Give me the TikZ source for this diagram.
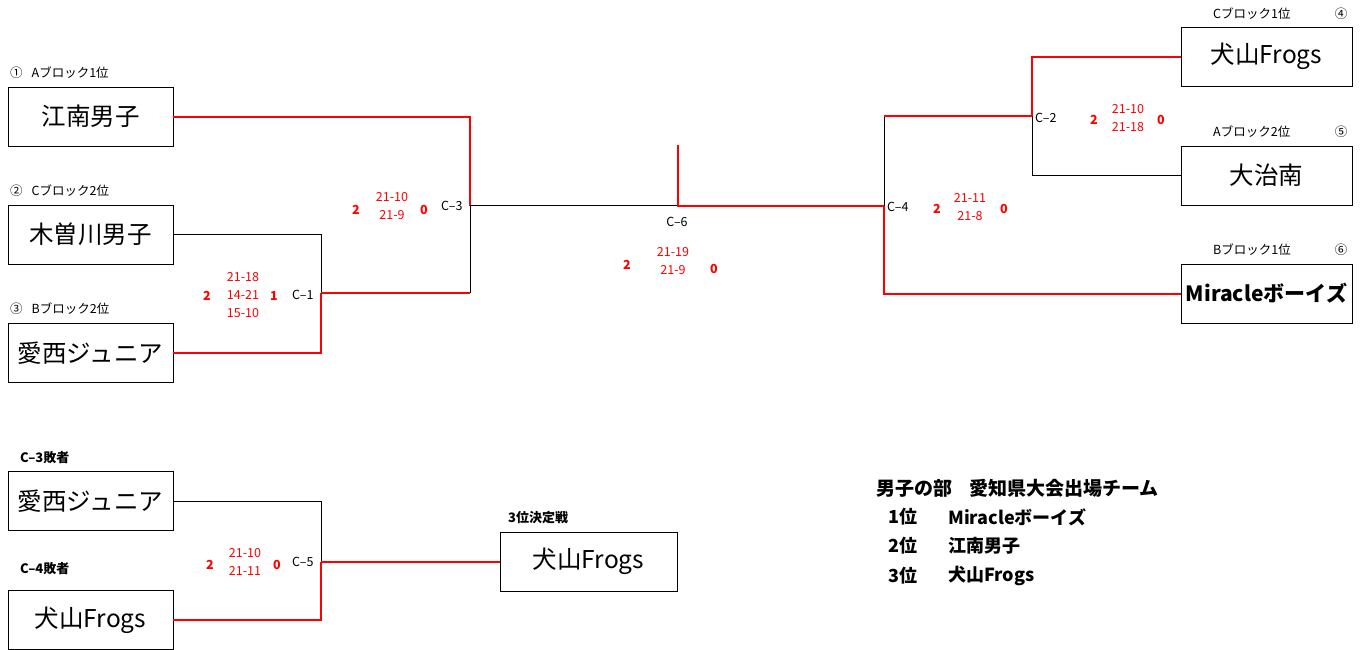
\documentclass[tikz,border=0pt]{standalone}
\usepackage{fontspec}
\setmainfont{Noto Sans CJK JP}
\usetikzlibrary{positioning, calc}

\begin{document}
\begin{tikzpicture}[
    x=1pt, y=-1pt,
    % Styles
    team/.style={ % team box
        rectangle,
        draw,
        line width=0.8pt,
        minimum width=165pt,
        minimum height=59pt,
        inner sep=0pt,
        font=\fontsize{24.5}{24.5}\selectfont
    },
    seed/.style={ % block label above a box
        anchor=west,
        inner sep=0pt,
        font=\fontsize{12.5}{13}\selectfont
    },
    heading/.style={ % bold label
        anchor=west,
        inner sep=0pt,
        font=\bfseries\fontsize{13}{14}\selectfont
    },
    match/.style={ % match number
        anchor=west,
        inner sep=0pt,
        font=\fontsize{12.5}{13}\selectfont
    },
    score/.style={ % set scores
        text=red,
        align=center,
        inner sep=0pt,
        font=\fontsize{12.5}{18}\selectfont
    },
    sets/.style={ % sets won
        text=red,
        inner sep=0pt,
        font=\bfseries\fontsize{12.5}{12}\selectfont
    },
    lose/.style={ % black bracket line
        line width=0.8pt
    },
    win/.style={ % red bracket line
        red,
        line width=2pt
    }
]
    \useasboundingbox (0,0) rectangle (1367,649);

    % Team boxes, left side
    \node[team] (kounan) at (90.5,116.5) {江南男子};
    \node[team] (kiso) at (90.5,234.5) {木曽川男子};
    \node[team] (aisai) at (90.5,353) {愛西ジュニア};

    % Team boxes, right side
    \node[team, minimum width=171pt] (inuyama) at (1266.5,56.5) {犬山Frogs};
    \node[team, minimum width=171pt] (ooharu) at (1266.5,175.5) {大治南};
    \node[team, minimum width=171pt, font=\bfseries\fontsize{21}{21}\selectfont] (miracle) at (1266.5,293.5) {Miracleボーイズ};

    % Third place match
    \node[team] (aisaiB) at (90.5,501) {愛西ジュニア};
    \node[team] (inuyamaB) at (90.5,620) {犬山Frogs};
    \node[team, minimum width=177pt] (third) at (588.5,561.5) {犬山Frogs};

    % Block labels
    \node[seed] (lkounan) at (10,73) {①\hspace{9pt}Aブロック1位};
    \node[seed] (lkiso) at (10,191) {②\hspace{9pt}Cブロック2位};
    \node[seed] (laisai) at (10,309) {③\hspace{9pt}Bブロック2位};
    \node[seed] (linuyama) at (1213,14) {Cブロック1位};
    \node[seed, anchor=center] (ninuyama) at (1341,14) {④};
    \node[seed] (looharu) at (1213,132) {Aブロック2位};
    \node[seed, anchor=center] (nooharu) at (1341,132) {⑤};
    \node[seed] (lmiracle) at (1213,250) {Bブロック1位};
    \node[seed, anchor=center] (nmiracle) at (1341,250) {⑥};
    \node[heading] (laisaiB) at (20,458) {C–3敗者};
    \node[heading] (linuyamaB) at (20,569) {C–4敗者};
    \node[heading] (lthird) at (508,518) {3位決定戦};

    % Junctions
    \coordinate (c1) at (321,293);
    \coordinate (c3) at (470,205.5);
    \coordinate (c6) at (678,205.5);
    \coordinate (t6) at (678,145);
    \coordinate (c4) at (884,205.5);
    \coordinate (c2) at (1032,116);
    \coordinate (c5) at (321,561.5);

    % Match C-1
    \draw[lose] (kiso.east) -| (c1);
    \draw[win] (aisai.east) -| (c1);
    % Match C-3
    \draw[win] (kounan.east) -| (c3);
    \draw[lose] (c3) -- (c3 |- c1);
    \draw[win] (c1) -- (c3 |- c1);
    % Match C-6
    \draw[lose] (c3) -- (c6);
    \draw[win] (t6) -- (c6) -- (c4);
    % Match C-4
    \draw[win] (miracle.west) -| (c4);
    \draw[lose] (c4) -- (c4 |- c2);
    \draw[win] (c4 |- c2) -- (c2);
    % Match C-2
    \draw[win] (inuyama.west) -| (c2);
    \draw[lose] (ooharu.west) -| (c2);
    % Match C-5
    \draw[lose] (aisaiB.east) -| (c5);
    \draw[win] (inuyamaB.east) -| (c5);
    \draw[win] (c5) -- (third.west);

    % Match numbers
    \node[match] (m1) at (292,295) {C–1};
    \node[match] (m3) at (441,206) {C–3};
    \node[match, anchor=center] (m6) at (677,222) {C–6};
    \node[match] (m4) at (887,207) {C–4};
    \node[match] (m2) at (1035,118) {C–2};
    \node[match] (m5) at (292,562) {C–5};

    % Scores
    \node[score] (s1) at (243,295) {21-18\\14-21\\15-10};
    \node[sets] (w1) at (207,296) {2};
    \node[sets] (l1) at (274,296) {1};
    \node[score] (s3) at (392,206) {21-10\\21-9};
    \node[sets] (w3) at (356,210) {2};
    \node[sets] (l3) at (424,210) {0};
    \node[score] (s6) at (673,261) {21-19\\21-9};
    \node[sets] (w6) at (627,265) {2};
    \node[sets] (l6) at (714,269) {0};
    \node[score] (s4) at (970,207) {21-11\\21-8};
    \node[sets] (w4) at (937,209) {2};
    \node[sets] (l4) at (1004,209) {0};
    \node[score] (s2) at (1128,118) {21-10\\21-18};
    \node[sets] (w2) at (1094,120) {2};
    \node[sets] (l2) at (1161,120) {0};
    \node[score] (s5) at (245,562) {21-10\\21-11};
    \node[sets] (w5) at (210,565) {2};
    \node[sets] (l5) at (277,565) {0};

    % Qualified teams
    \begin{scope}[every node/.style={anchor=west, inner sep=0pt, font=\bfseries\fontsize{18}{18}\selectfont}]
        \node[font=\bfseries\fontsize{19}{19}\selectfont] (title) at (876,488) {男子の部\hspace{17pt}愛知県大会出場チーム};
        \node (r1) at (888,517) {1位};
        \node (t1) at (948,517) {Miracleボーイズ};
        \node (r2) at (888,546) {2位};
        \node (t2) at (948,546) {江南男子};
        \node (r3) at (888,576) {3位};
        \node (t3) at (948,576) {犬山Frogs};
    \end{scope}
\end{tikzpicture}
\end{document}
